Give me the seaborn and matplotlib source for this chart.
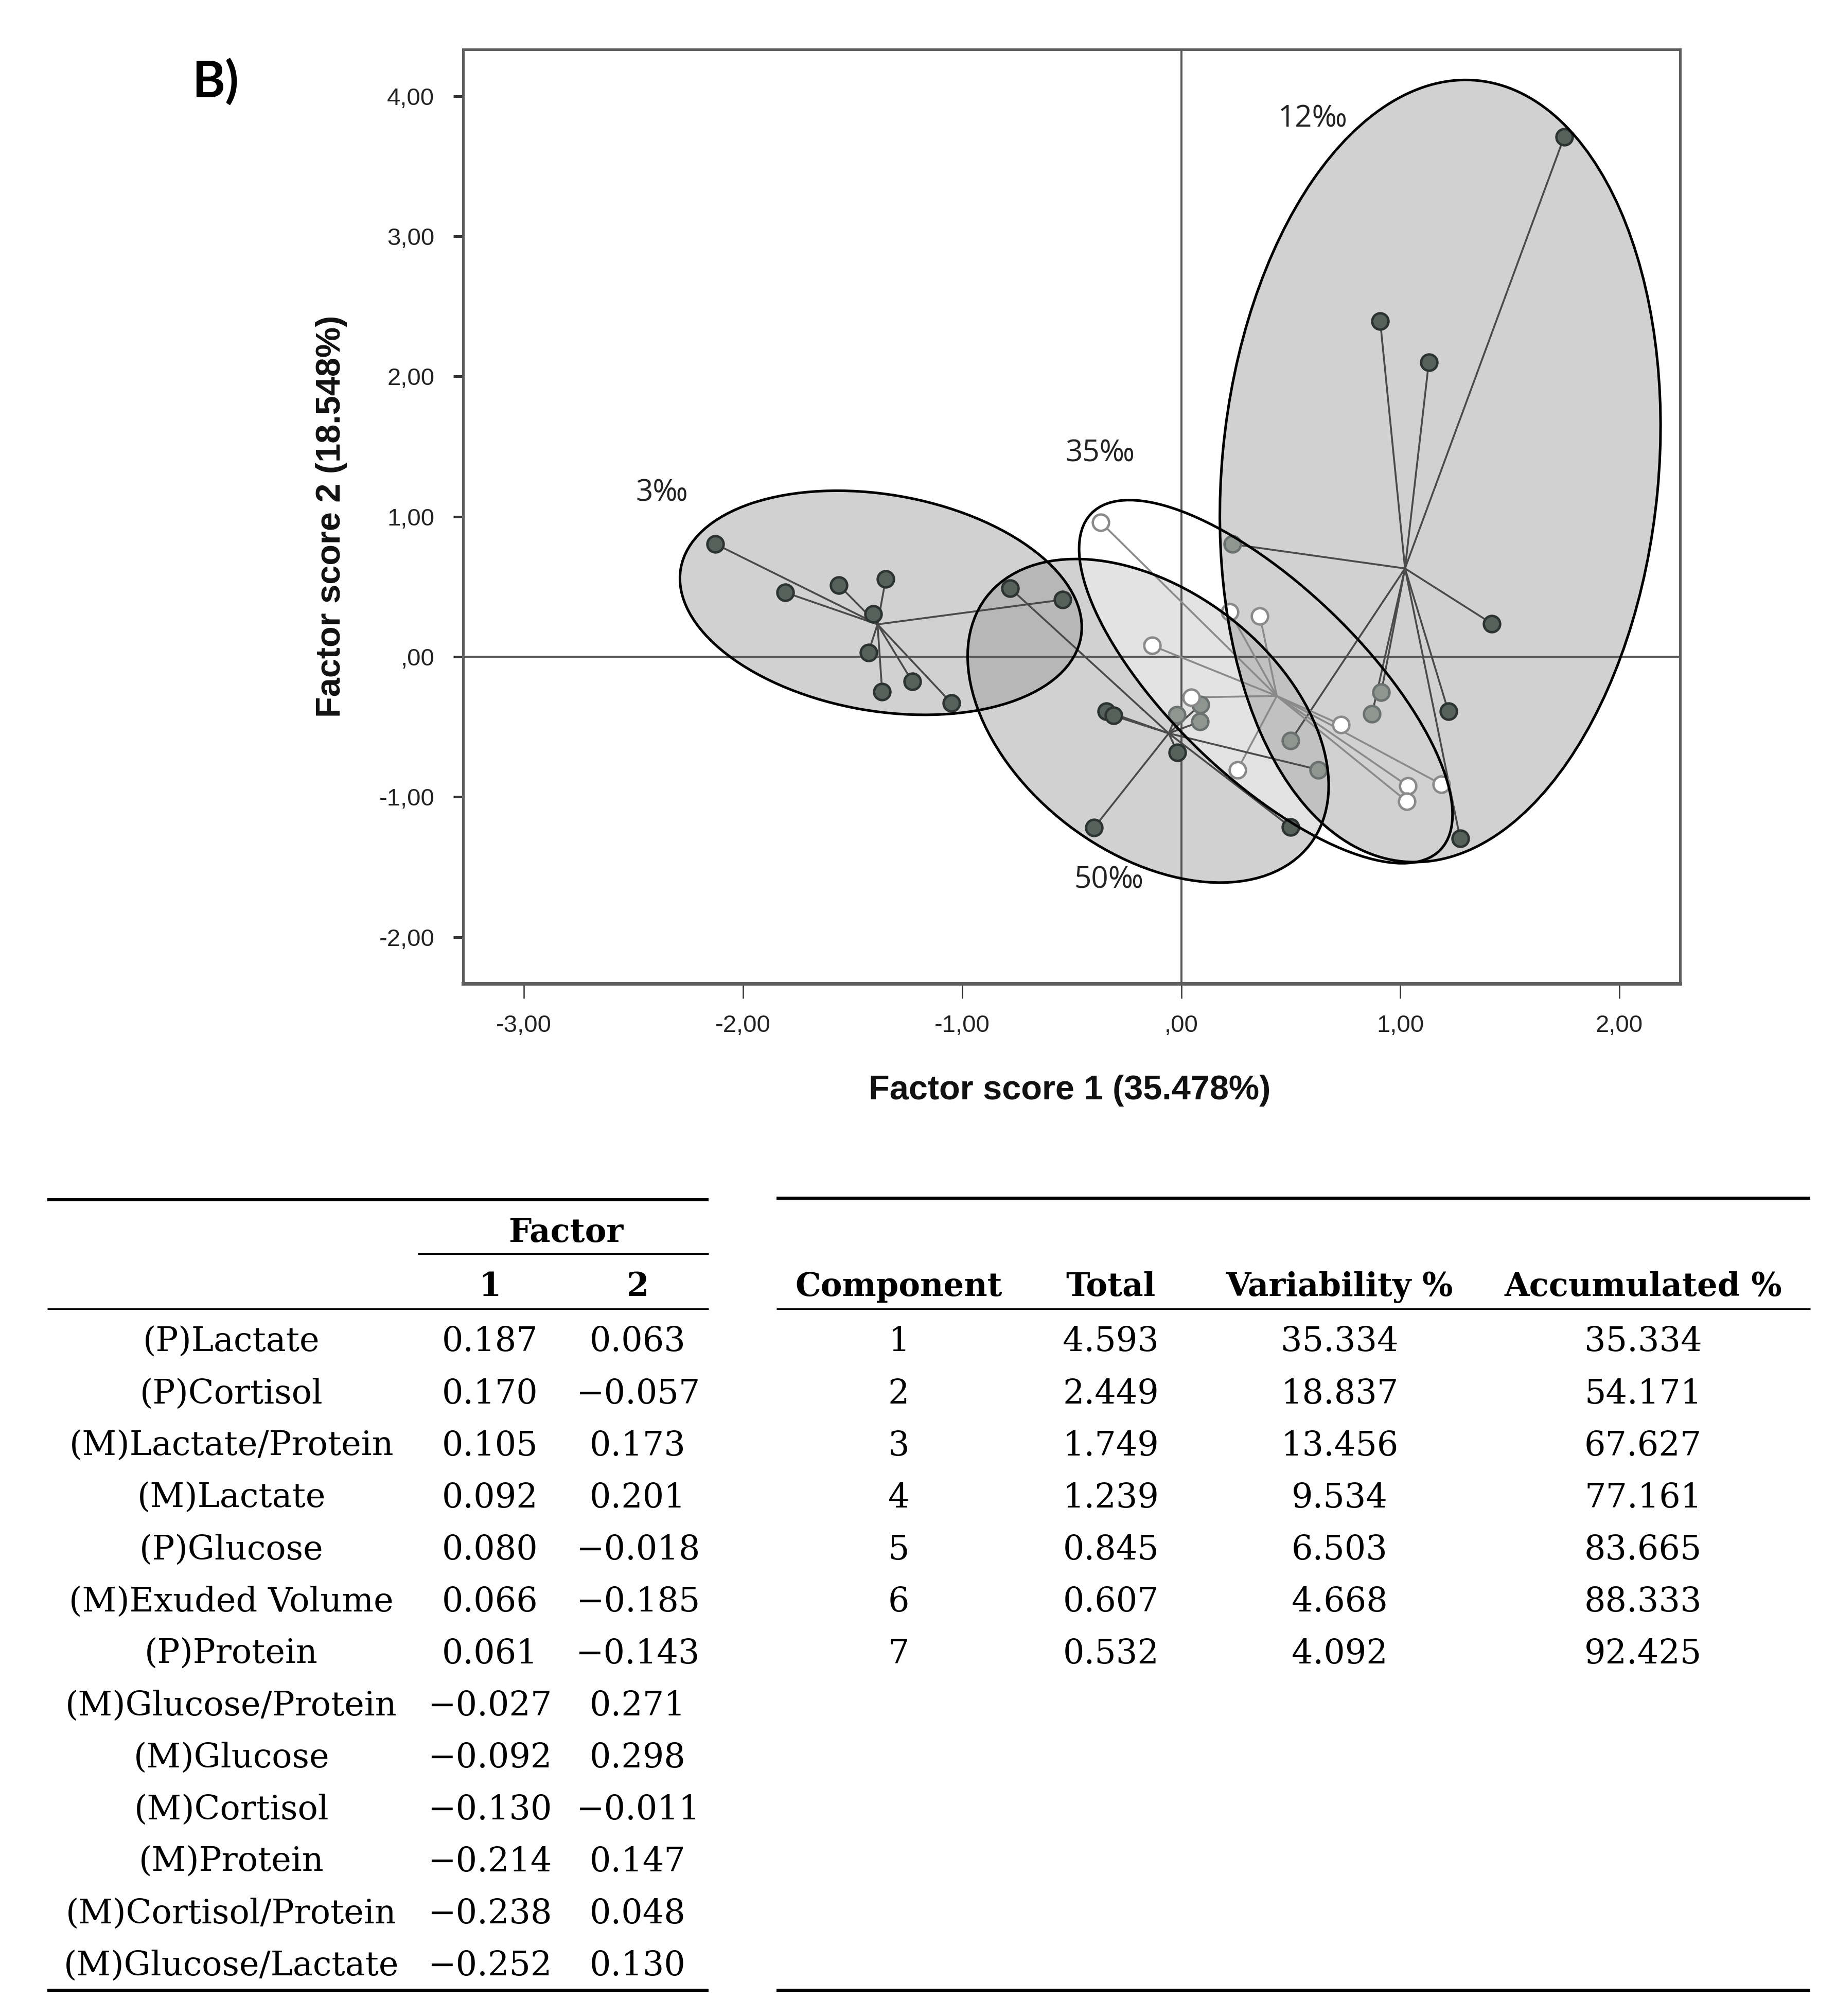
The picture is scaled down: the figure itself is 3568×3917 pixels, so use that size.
import matplotlib
matplotlib.use("Agg")
import matplotlib.pyplot as plt
import seaborn as sns
import pandas as pd
from matplotlib.patches import Ellipse
from matplotlib.transforms import Affine2D
from matplotlib.ticker import FuncFormatter

# --- Factor scores per salinity group ---
x_3 = [-2.126, -1.808, -1.562, -1.349, -1.406, -1.428, -1.365, -1.228, -1.049, -0.541]
y_3 = [0.804, 0.459, 0.510, 0.553, 0.305, 0.030, -0.250, -0.176, -0.330, 0.407]
x_12 = [1.748, 0.908, 1.130, 1.418, 0.234, 0.913, 0.871, 1.219, 0.499, 1.273]
y_12 = [3.710, 2.395, 2.100, 0.236, 0.803, -0.253, -0.407, -0.389, -0.600, -1.296]
x_35 = [-0.368, -0.134, 0.221, 0.359, 0.045, 0.730, 0.257, 1.034, 1.030, 1.187]
y_35 = [0.960, 0.080, 0.320, 0.289, -0.290, -0.485, -0.806, -0.922, -1.032, -0.910]
x_50 = [-0.781, -0.343, -0.310, -0.017, -0.398, 0.499, 0.626, -0.021, 0.089, 0.085]
y_50 = [0.489, -0.388, -0.420, -0.684, -1.220, -1.215, -0.806, -0.415, -0.341, -0.464]

# --- hand drawn group ellipses (x units, in a frame where 1 y-unit is drawn as long as 1 x-unit) ---
ell_names = ["3‰", "50‰", "12‰", "35‰"]
ell_cx = [-1.371, -0.151, 1.182, 0.386]
ell_cy = [0.385, -0.457, 1.325, -0.178]
ell_w = [1.853, 1.859, 1.992, 2.212]
ell_h = [0.988, 1.200, 3.580, 0.871]
ell_ang = [-9.7, -37.3, -5.4, -43.9]

# group label positions
lab_x = [-2.37, -0.33, 0.60, -0.37]
lab_y = [1.165, -1.596, 3.835, 1.45]

# --- Tables ---
load_vars = ["(P)Lactate", "(P)Cortisol", "(M)Lactate/Protein", "(M)Lactate", "(P)Glucose",
             "(M)Exuded Volume", "(P)Protein", "(M)Glucose/Protein", "(M)Glucose",
             "(M)Cortisol", "(M)Protein", "(M)Cortisol/Protein", "(M)Glucose/Lactate"]
load_f1 = [0.187, 0.170, 0.105, 0.092, 0.080, 0.066, 0.061, -0.027, -0.092, -0.130, -0.214, -0.238, -0.252]
load_f2 = [0.063, -0.057, 0.173, 0.201, -0.018, -0.185, -0.143, 0.271, 0.298, -0.011, 0.147, 0.048, 0.130]
comp_ids = [1, 2, 3, 4, 5, 6, 7]
comp_total = [4.593, 2.449, 1.749, 1.239, 0.845, 0.607, 0.532]
comp_var = [35.334, 18.837, 13.456, 9.534, 6.503, 4.668, 4.092]
comp_acc = [35.334, 54.171, 67.627, 77.161, 83.665, 88.333, 92.425]

df = pd.DataFrame({
    "x": x_3 + x_12 + x_35 + x_50,
    "y": y_3 + y_12 + y_35 + y_50,
    "group": ["3‰"] * len(x_3) + ["12‰"] * len(x_12) + ["35‰"] * len(x_35) + ["50‰"] * len(x_50),
})

sns.set_theme(style="white")
plt.rcParams["font.family"] = ["Liberation Sans", "DejaVu Sans"]

W, H, DPI = 17.84, 19.585, 200
fig = plt.figure(figsize=(W, H), dpi=DPI)
pos = [0.2522, 0.5121, 0.6629, 0.4634]
ax = fig.add_axes(pos)
xlim = (-3.278, 2.277)
ylim = (-2.332, 4.333)
ax.set_xlim(*xlim)
ax.set_ylim(*ylim)

# ratio of pixels per y-unit to pixels per x-unit
px_x = pos[2] * W * DPI / (xlim[1] - xlim[0])
px_y = pos[3] * H * DPI / (ylim[1] - ylim[0])
r = px_y / px_x
iso = Affine2D().scale(1.0, 1.0 / r) + ax.transData

# ellipse fills: grey ones, the 35‰ one is a light veil under the 12‰ fill
fill_z = {"3‰": 1.0, "50‰": 1.1, "35‰": 1.2, "12‰": 1.3}
veil = None
for name, cx, cy, w, h, a in zip(ell_names, ell_cx, ell_cy, ell_w, ell_h, ell_ang):
    fc = (1, 1, 1, 0.40) if name == "35‰" else (0.6, 0.6, 0.6, 0.45)
    p = Ellipse((cx, cy * r), w, h, angle=a, transform=iso,
                facecolor=fc, edgecolor="none", zorder=fill_z[name])
    ax.add_patch(p)
    if name == "35‰":
        veil = p
    ax.add_patch(Ellipse((cx, cy * r), w, h, angle=a, transform=iso,
                         fill=False, edgecolor="black", lw=1.8, zorder=5))

# marks lying inside the 35‰ ellipse look washed out in the original
df["veiled"] = [veil.contains_point(ax.transData.transform((px, py)))
                for px, py in zip(df["x"], df["y"])]

ax.axhline(0, color="#555555", lw=1.4, zorder=1.5)
ax.axvline(0, color="#555555", lw=1.4, zorder=1.5)

# lines to group centroid
for g, sub in df.groupby("group"):
    cx, cy = sub["x"].mean(), sub["y"].mean()
    lc = "#8a8a8a" if g == "35‰" else "#4a4a4a"
    for px, py in zip(sub["x"], sub["y"]):
        ax.plot([px, cx], [py, cy], color=lc, lw=1.3, zorder=2)

open_pts = df[df["group"] == "35‰"]
dark_pts = df[(df["group"] != "35‰") & ~df["veiled"]]
pale_pts = df[(df["group"] != "35‰") & df["veiled"]]
sns.scatterplot(data=dark_pts, x="x", y="y", ax=ax, color="#56615c", edgecolor="#2c3330",
                linewidth=1.7, s=130, zorder=3, legend=False)
sns.scatterplot(data=pale_pts, x="x", y="y", ax=ax, color="#8e9692", edgecolor="#6b716e",
                linewidth=1.7, s=130, zorder=3, legend=False)
sns.scatterplot(data=open_pts, x="x", y="y", ax=ax, color="white", edgecolor="#8a8a8a",
                linewidth=1.7, s=130, zorder=3, legend=False)

for name, lx, ly in zip(ell_names, lab_x, lab_y):
    ax.text(lx, ly, name, fontsize=21, family=["Open Sans", "DejaVu Sans"],
            ha="center", va="center", color="#222222", zorder=6)

ax.set_xlim(*xlim)
ax.set_ylim(*ylim)
ax.set_xticks(range(-3, 3))
ax.set_yticks(range(-2, 5))


def spss_fmt(v, _pos=None):
    s = f"{v:.2f}".replace(".", ",")
    if s.startswith("0,"):
        s = s[1:]
    if s.startswith("-0,"):
        s = "-" + s[2:]
    return s


ax.xaxis.set_major_formatter(FuncFormatter(spss_fmt))
ax.yaxis.set_major_formatter(FuncFormatter(spss_fmt))
ax.tick_params(axis="x", bottom=True, direction="out", length=10.5, width=0.9, pad=11,
               labelsize=17, color="#333333", labelcolor="#222222")
ax.tick_params(axis="y", left=True, direction="out", length=7, width=1.8, pad=13,
               labelsize=17, color="#333333", labelcolor="#222222")
for side, sp in ax.spines.items():
    sp.set_visible(True)
    sp.set_color("#5f5f5f")
    sp.set_linewidth(2.6 if side == "bottom" else 1.8)

ax.set_xlabel("Factor score 1 (35.478%)", fontsize=24, fontweight="bold", color="#111111")
ax.set_ylabel("Factor score 2 (18.548%)", fontsize=24, fontweight="bold", color="#111111")
ax.xaxis.label.set_va("center")
ax.yaxis.label.set_va("center")
ax.xaxis.set_label_coords(0.4985, -0.1146)
ax.yaxis.set_label_coords(-0.108, 0.50)

fig.text(0.1045, 0.9515, "B)", fontsize=35, fontweight="bold", color="black",
         family=["Lato", "DejaVu Sans"], ha="left", va="baseline")

# --- tables, laid out in an overlay axes measured in reference pixels ---
tax = fig.add_axes([0, 0, 1, 1], zorder=-1)
tax.set_xlim(0, 1428)
tax.set_ylim(1568, 0)
tax.axis("off")

serif = ["DejaVu Serif"]
tfs, tfb = 23.5, 22.5
row0, dy = 1051, 40.45
thick, thin = 2.2, 1.1


def fmt3(v):
    return f"{v:.3f}".replace("-", "\u2212")


def cell(x, y, s, bold=False):
    tax.text(x, y, s, family=serif, fontsize=tfb if bold else tfs,
             fontweight="bold" if bold else "normal", ha="center", va="baseline", color="black")


# left table: factor loadings
tax.hlines(933, 37, 551, color="black", lw=thick)
cell(440, 966, "Factor", bold=True)
tax.hlines(975, 325, 551, color="black", lw=thin)
cell(381, 1008, "1", bold=True)
cell(496, 1008, "2", bold=True)
tax.hlines(1018, 37, 551, color="black", lw=thin)
for i, (name, f1, f2) in enumerate(zip(load_vars, load_f1, load_f2)):
    yb = row0 + i * dy
    cell(180, yb, name)
    cell(381, yb, fmt3(f1))
    cell(496, yb, fmt3(f2))
tax.hlines(1548, 37, 551, color="black", lw=thick)

# right table: explained variance
rcols = [699, 864, 1042, 1278]
tax.hlines(932, 604, 1408, color="black", lw=thick)
for cx, head in zip(rcols, ["Component", "Total", "Variability %", "Accumulated %"]):
    cell(cx, 1008, head, bold=True)
tax.hlines(1018, 604, 1408, color="black", lw=thin)
for i, (c, t, v, a) in enumerate(zip(comp_ids, comp_total, comp_var, comp_acc)):
    yb = row0 + i * dy
    for cx, s in zip(rcols, [str(c), f"{t:.3f}", f"{v:.3f}", f"{a:.3f}"]):
        cell(cx, yb, s)
tax.hlines(1548, 604, 1408, color="black", lw=thick)

fig.savefig("out.png", dpi=DPI, facecolor="white")
